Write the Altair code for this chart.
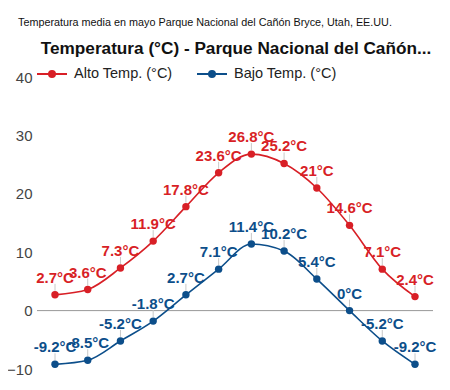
import altair as alt
import pandas as pd

idx = list(range(12))
alto = [2.7, 3.6, 7.3, 11.9, 17.8, 23.6, 26.8, 25.2, 21, 14.6, 7.1, 2.4]
bajo = [-9.2, -8.5, -5.2, -1.8, 2.7, 7.1, 11.4, 10.2, 5.4, 0, -5.2, -9.2]
series = ["Alto Temp. (°C)", "Bajo Temp. (°C)"]
colors = ["#d81f26", "#0c4e8a"]
y_ticks = list(range(-10, 41, 5))

small_title = "Temperatura media en mayo Parque Nacional del Cañón Bryce, Utah, EE.UU."
big_title = "Temperatura (°C) - Parque Nacional del Cañón..."

rows = []
for s, vals in zip(series, [alto, bajo]):
    for i, v in zip(idx, vals):
        rows.append({"i": i, "v": v, "s": s, "lab": f"{v:g}°C"})
df = pd.DataFrame(rows)

FONT = "Liberation Sans"

x = alt.X("i:Q", scale=alt.Scale(domain=[-0.55, 11.55]), axis=None)
y = alt.Y(
    "v:Q",
    scale=alt.Scale(domain=[-10, 40], nice=False, zero=False),
    axis=alt.Axis(
        values=y_ticks,
        labelExpr="datum.value % 10 === 0 ? datum.label : ''",
        title=None,
        domain=False,
        ticks=False,
        labelFontSize=15,
        labelFont=FONT,
        labelColor="#444",
        labelPadding=5,
        gridColor={"condition": {"test": "datum.value % 10 !== 0", "value": "#f4f4f4"}, "value": "#e6e6e6"},
        gridWidth=1,
    ),
)
color = alt.Color(
    "s:N",
    scale=alt.Scale(domain=series, range=colors),
    legend=alt.Legend(
        orient="none",
        legendX=-13,
        legendY=-19,
        direction="horizontal",
        title=None,
        symbolType="M -1 0 L 1 0 M 0.2 0 A 0.2 0.2 0 1 1 -0.2 0 A 0.2 0.2 0 1 1 0.2 0",
        symbolSize=900,
        symbolOffset=12,
        symbolStrokeWidth=2,
        labelFontSize=14.5,
        labelFont=FONT,
        labelColor="#222",
        labelOffset=6,
        columnPadding=11,
    ),
)

base = alt.Chart(df)

zero = alt.Chart(pd.DataFrame({"z": [0]})).mark_rule(color="#999", strokeWidth=1).encode(y=alt.datum(0))

leaders = base.mark_rule(color="#c8c8c8", strokeWidth=1, yOffset=-4, y2Offset=-11).encode(
    x=x, y=alt.Y("v:Q", scale=alt.Scale(domain=[-10, 40])), y2="v:Q"
)

lines = base.mark_line(
    interpolate="monotone", strokeWidth=1.6, point=alt.OverlayMarkDef(filled=True, size=55)
).encode(x=x, y=y, color=color)

labels = base.mark_text(
    font=FONT, fontSize=15, fontWeight="bold", baseline="alphabetic", dy=-12
).encode(x=x, y=alt.Y("v:Q"), text="lab:N", color=alt.Color("s:N", legend=None))

one = pd.DataFrame({"t": [0]})
t1 = alt.Chart(one).mark_text(
    font=FONT, fontSize=10.8, align="left", baseline="middle", color="#111"
).encode(x=alt.value(-19), y=alt.value(-54), text=alt.value(small_title))
t2 = alt.Chart(one).mark_text(
    font=FONT, fontSize=17.2, fontWeight="bold", align="center", baseline="middle", color="#111"
).encode(x=alt.value(199), y=alt.value(-28), text=alt.value(big_title))

chart = (
    alt.layer(zero, leaders, lines, labels, t1, t2)
    .properties(
        width=396,
        height=292,
        autosize=alt.AutoSizeParams(type="none"),
        padding={"left": 29, "top": 69, "right": 9, "bottom": 13},
        background="white",
    )
    .configure_view(stroke=None)
)

chart.save("out.html", embed_options={"renderer": "svg", "actions": False})
